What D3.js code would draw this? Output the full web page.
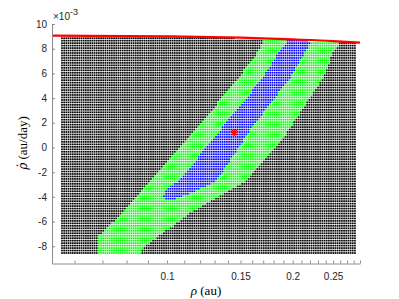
<!DOCTYPE html>
<html>
<head>
<meta charset="utf-8">
<script src="https://cdn.jsdelivr.net/npm/d3@7"></script>
<style>
body{margin:0;background:#fff;}
svg{display:block;}
</style>
</head>
<body>
<svg></svg>
<script>
// search grid: rho in au (log spaced), rhodot in 1e-3 au/day
var rhoMin=0.056, rhoMax=0.282, rhoCount=136;
var dotMin=-8.55, dotStep=0.2, dotCount=89;

// upper admissible limit (red curve)
var limitRho=[0.053,0.1,0.15,0.2,0.25,0.29];
var limitDot=[9.06,9.0,8.89,8.75,8.62,8.49];

// outline of the green region
var greenRho=[0.068,0.068,0.0751,0.091,0.1167,0.1471,0.1643,0.1698,0.1717,0.2597,0.2597,0.2498,0.2364,0.1865,0.1555,0.1135,0.0862,0.0862,0.068];
var greenDot=[-8.47,-7.25,-5.87,-2.79,1.42,5.47,7.65,8.55,9.3,9.3,8.55,7.65,5.63,0.36,-2.63,-5.31,-8.3,-8.8,-8.8];

// outline of the blue region
var blueRho=[0.0978,0.0989,0.1074,0.134,0.1689,0.1845,0.1938,0.1938,0.2201,0.2201,0.2141,0.1971,0.1581,0.1318,0.1167,0.1017];
var blueDot=[-4.09,-3.44,-2.63,1.42,5.55,7.65,8.55,9.3,9.3,8.55,7.65,5.63,1.42,-2.63,-3.6,-4.33];

// best fit
var bestRho=0.1449;
var bestDot=1.21;

var xTicks=[0.06,0.07,0.08,0.09,0.1,0.11,0.12,0.13,0.14,0.15,0.16,0.17,0.18,0.19,0.2,0.21,0.22,0.23,0.24,0.25,0.26,0.27,0.28,0.29];
var xLabels=[0.1,0.15,0.2,0.25];
var yTicks=[-8,-6,-4,-2,0,2,4,6,8,10];

function go(){
  var width=399, height=299;
  var margin={top:24,bot:35.5,left:52,right:39};
  var svg=d3.select("svg").attr("width",width).attr("height",height);

  var xScale=d3.scaleLog()
               .domain([0.053,0.29])
               .range([margin.left,width-margin.right]);
  var yScale=d3.scaleLinear()
               .domain([-9.4,10])
               .range([height-margin.bot,margin.top]);
  var limit=d3.scaleLog().domain(limitRho).range(limitDot);

  var greenPoly=greenRho.map(function(r,i){return [xScale(r),yScale(greenDot[i])];});
  var bluePoly=blueRho.map(function(r,i){return [xScale(r),yScale(blueDot[i])];});

  var pts=[];
  for(var i=0;i<rhoCount;i++){
    var r=rhoMin*Math.pow(rhoMax/rhoMin,i/(rhoCount-1));
    for(var j=0;j<dotCount;j++){
      var v=dotMin+j*dotStep;
      if(v>limit(r)-0.05){continue;}
      var p=[xScale(r),yScale(v)];
      var c="#000";
      if(d3.polygonContains(bluePoly,p)){c="#0000ff";}
      else if(d3.polygonContains(greenPoly,p)){c="#00ff00";}
      pts.push({x:p[0],y:p[1],c:c});
    }
  }

  var s=1.7;
  svg.append("g")
     .selectAll("rect")
     .data(pts)
     .enter()
     .append("rect")
     .attr("x",function(d){return d.x-s/2;})
     .attr("y",function(d){return d.y-s/2;})
     .attr("width",s)
     .attr("height",s)
     .attr("fill",function(d){return d.c;});

  var lineMaker=d3.line()
                  .x(function(d){return xScale(d);})
                  .y(function(d,i){return yScale(limitDot[i]);})
                  .curve(d3.curveMonotoneX);
  svg.append("path")
     .attr("d",lineMaker(limitRho))
     .attr("stroke","#ff0000")
     .attr("stroke-width",2.2)
     .attr("fill","none");

  var sx=xScale(bestRho), sy=yScale(bestDot);
  svg.append("path")
     .attr("transform","translate("+sx+","+sy+")")
     .attr("d","M-3.5,0H3.5M0,-3.5V3.5M-2.5,-2.5L2.5,2.5M-2.5,2.5L2.5,-2.5")
     .attr("stroke","#ff0000")
     .attr("stroke-width",1.2)
     .attr("fill","none");

  var xAxis=d3.axisBottom(xScale)
              .tickValues(xTicks)
              .tickSizeInner(-3)
              .tickSizeOuter(0)
              .tickPadding(9)
              .tickFormat(function(d){
                var hit=xLabels.filter(function(l){return Math.abs(l-d)<1e-9;});
                return hit.length ? String(hit[0]) : "";
              });
  var yAxis=d3.axisLeft(yScale)
              .tickValues(yTicks)
              .tickSizeInner(-3)
              .tickSizeOuter(0)
              .tickPadding(5)
              .tickFormat(function(d){return String(d);});

  var gx=svg.append("g")
            .attr("transform","translate(0,"+(height-margin.bot)+")")
            .call(xAxis);
  var gy=svg.append("g")
            .attr("transform","translate("+margin.left+",0)")
            .call(yAxis);
  [gx,gy].forEach(function(g){
    g.select(".domain").attr("stroke","#8c8c8c");
    g.selectAll(".tick line").attr("stroke","#8c8c8c");
    g.selectAll("text")
     .attr("fill","#262626")
     .style("font-family","Liberation Sans, Arial, sans-serif")
     .style("font-size","10px");
  });

  var ex=svg.append("text")
     .attr("x",53)
     .attr("y",19.5)
     .attr("fill","#262626")
     .style("font-family","Liberation Sans, Arial, sans-serif")
     .style("font-size","10px")
     .text("\u00d710");
  ex.append("tspan")
    .attr("dy",-5)
    .style("font-size","9px")
    .text("-3");

  var xl=svg.append("text")
     .attr("x",206)
     .attr("y",295)
     .attr("text-anchor","middle")
     .attr("fill","#000")
     .style("font-family","Liberation Serif, serif")
     .style("font-size","13px");
  xl.append("tspan").style("font-style","italic").text("\u03c1");
  xl.append("tspan").text(" (au)");

  var yl=svg.append("text")
     .attr("transform","translate(27,143) rotate(-90)")
     .attr("text-anchor","middle")
     .attr("fill","#000")
     .style("font-family","DejaVu Serif, serif")
     .style("font-size","12px");
  yl.append("tspan").style("font-style","italic").text("\u03c1\u0307");
  yl.append("tspan").style("font-family","Liberation Serif, serif").style("font-size","13px").text(" (au/day)");
}

go();
</script>
</body>
</html>
